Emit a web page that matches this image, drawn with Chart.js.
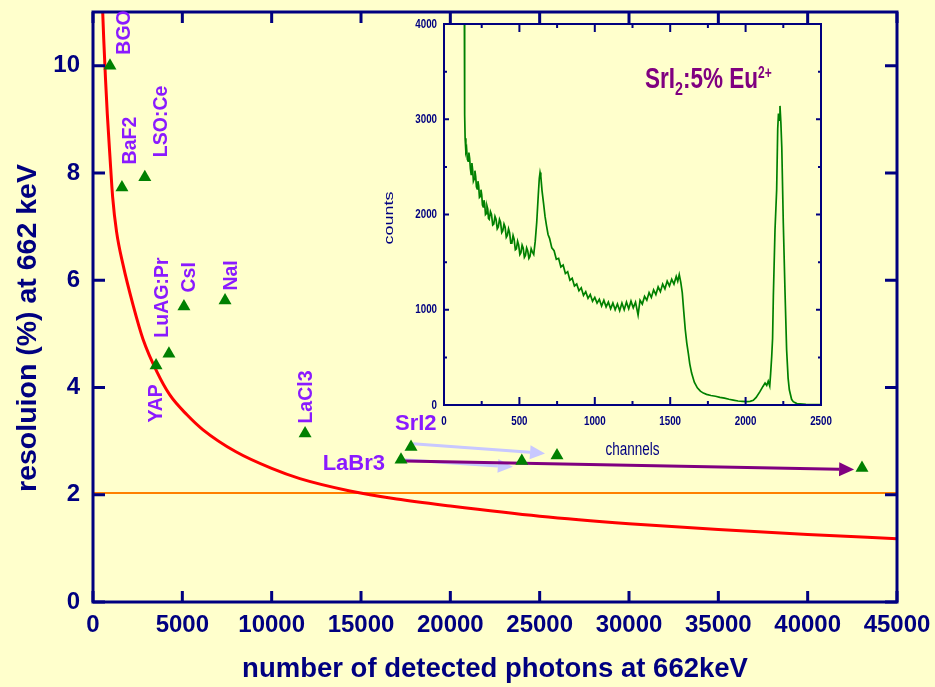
<!DOCTYPE html>
<html>
<head>
<meta charset="utf-8">
<script src="https://cdn.jsdelivr.net/npm/chart.js@4.4.1/dist/chart.umd.min.js"></script>
<style>
	html, body { margin: 0; padding: 0; background: #ffffcc; }
	#wrap { position: relative; width: 935px; height: 687px; overflow: hidden; }
	#main { position: absolute; left: 0; top: 0; }
	#inset { position: absolute; left: 360px; top: 0; }
</style>
</head>
<body>
<div id="wrap">
	<canvas id="main" width="935" height="687" style="width:935px;height:687px"></canvas>
	<canvas id="inset" width="500" height="470" style="width:500px;height:470px"></canvas>
</div>
<script>
// ---- data ----
var crystalNames = ['BGO', 'BaF2', 'LSO:Ce', 'YAP', 'LuAG:Pr', 'CsI', 'NaI', 'LaCl3', 'SrI2', 'LaBr3'];
var crystalPhotons = [950, 1620, 2900, 3530, 4250, 5090, 7390, 11870, 17800, 17240];
var crystalResolution = [10.0, 7.73, 7.92, 4.41, 4.63, 5.51, 5.62, 3.14, 2.89, 2.65];

var improvedPhotons = [24000, 25970, 43040];
var improvedResolution = [2.63, 2.73, 2.50];

// statistical limit curve
var limitPhotons = [480, 520, 600, 700, 800, 950, 1100, 1320, 1680, 2240, 2800, 3580, 4300, 5260, 6160,
	8000, 10000, 11580, 14380, 17000, 20000, 25000, 30000, 35000, 40000, 45000];
var limitResolution = [11.6, 11.2, 10.5, 9.75, 9.1, 8.3, 7.55, 6.9, 6.29, 5.54, 4.9, 4.29, 3.86, 3.49, 3.21,
	2.8, 2.49, 2.3, 2.07, 1.92, 1.79, 1.6, 1.46, 1.35, 1.26, 1.18];

var refPhotons = [0, 45000];
var refResolution = [2.03, 2.03];

var arrowStartPhotons = [17900, 17350, 17460];
var arrowStartResolution = [2.95, 2.65, 2.63];
var arrowEndPhotons = [25300, 23500, 42600];
var arrowEndResolution = [2.77, 2.52, 2.47];

// inset spectrum
var spectrumChannels = [130, 135, 137, 140, 145, 150, 155, 160, 165, 170, 175, 180, 185, 190, 195, 200, 205, 210, 215, 220,
	225, 230, 235, 240, 245, 250, 255, 260, 265, 270, 275, 280, 285, 290, 295,
	300, 308, 315, 323, 330, 338, 345, 353, 360, 368, 375, 383, 390, 398, 405, 413, 420, 428, 435, 443,
	450, 458, 465, 473, 480, 488, 495, 503, 510, 518, 525, 533, 540, 548, 555, 563, 570, 578, 585,
	595, 605, 615, 625, 632, 637, 642, 650, 660, 670, 680, 690, 700, 715, 730, 745, 760, 775, 790, 805,
	820, 835, 850, 865, 880, 895, 910, 925, 940, 955, 970, 985, 1000, 1015, 1030, 1045, 1060, 1075, 1090, 1105,
	1120, 1135, 1150, 1165, 1180, 1195, 1210, 1225, 1240, 1255, 1270, 1287, 1300, 1315, 1330, 1345, 1360, 1375, 1390, 1405,
	1420, 1435, 1450, 1465, 1480, 1495, 1510, 1525, 1540, 1550, 1560, 1570, 1580, 1590, 1600, 1610, 1620, 1630, 1642, 1660,
	1680, 1700, 1720, 1741, 1770, 1800, 1830, 1860, 1890, 1918, 1950, 1980, 2006, 2030, 2051, 2070, 2095, 2115, 2129, 2140,
	2150, 2160, 2166, 2173, 2179, 2184, 2195, 2206, 2213, 2218, 2222, 2228, 2234, 2240, 2250, 2261, 2272, 2282, 2290, 2305,
	2316, 2340, 2400, 2500];
var spectrumCounts = [4600, 4100, 3050, 2800, 2660, 2690, 2580, 2560, 2650, 2590, 2480, 2420, 2540, 2470, 2350, 2370, 2460, 2400, 2290, 2270,
	2350, 2300, 2180, 2190, 2260, 2210, 2100, 2080, 2150, 2110, 2000, 2010, 2090, 2060, 1960,
	1950, 2030, 2000, 1890, 1900, 1980, 1950, 1850, 1870, 1950, 1920, 1810, 1830, 1900, 1870, 1760, 1780, 1850, 1810, 1700,
	1700, 1780, 1740, 1630, 1640, 1720, 1680, 1580, 1600, 1680, 1650, 1550, 1570, 1650, 1620, 1540, 1560, 1640, 1610,
	1580, 1720, 1920, 2200, 2380, 2440, 2400, 2250, 2120, 1980, 1880, 1790, 1750, 1650, 1620, 1530, 1540, 1450, 1470, 1380,
	1400, 1310, 1330, 1250, 1270, 1200, 1230, 1150, 1190, 1120, 1160, 1090, 1130, 1070, 1110, 1040, 1100, 1030, 1080, 1010,
	1070, 1000, 1060, 990, 1070, 1000, 1080, 1010, 1090, 1020, 1080, 945, 1100, 1060, 1140, 1100, 1180, 1130, 1210, 1160,
	1240, 1190, 1270, 1220, 1300, 1250, 1320, 1270, 1350, 1300, 1370, 1290, 1180, 980, 790, 650, 545, 430, 335, 240,
	180, 145, 125, 112, 100, 92, 80, 72, 60, 52, 42, 38, 35, 38, 50, 80, 140, 195, 230, 205,
	250, 200, 330, 507, 700, 1140, 1840, 2260, 2900, 3060, 2990, 3140, 2960, 2700, 1910, 1210, 580, 280, 160, 60,
	35, 15, 8, 5];

// ---- styles ----
var NAVY = '#000080';
var FONT = "'Liberation Sans', Arial, Helvetica, sans-serif";
var LABEL_COLOR = '#8a1aff';
var SQUEEZE = 0.75; // inset picture is horizontally squeezed

var labelOffsets = {
	'BGO':     { dx: 15, dy: -11, vertical: true },
	'BaF2':    { dx: 9,  dy: -23, vertical: true },
	'LSO:Ce':  { dx: 17, dy: -20, vertical: true },
	'YAP':     { dx: 1,  dy: 57,  vertical: true },
	'LuAG:Pr': { dx: -6, dy: -16, vertical: true },
	'CsI':     { dx: 6,  dy: -14, vertical: true },
	'NaI':     { dx: 7,  dy: -10, vertical: true },
	'LaCl3':   { dx: 2,  dy: -10, vertical: true },
	'SrI2':    { dx: -16, dy: -23, vertical: false, align: 'left' },
	'LaBr3':   { dx: -16, dy: 4,  vertical: false, align: 'right' }
};
var arrowColors = ['#c8c8ff', '#c8c8ff', '#800080'];

function toPoints(xs, ys) {
	return xs.map(function(x, i) { return { x: x, y: ys[i] }; });
}

function drawArrow(ctx, x1, y1, x2, y2, color) {
	var ang = Math.atan2(y2 - y1, x2 - x1);
	var headLen = 15, headHalf = 7;
	var bx = x2 - headLen * Math.cos(ang), by = y2 - headLen * Math.sin(ang);
	ctx.strokeStyle = color;
	ctx.lineWidth = 3;
	ctx.beginPath();
	ctx.moveTo(x1, y1);
	ctx.lineTo(bx, by);
	ctx.stroke();
	ctx.fillStyle = color;
	ctx.beginPath();
	ctx.moveTo(x2, y2);
	ctx.lineTo(bx + headHalf * Math.sin(ang), by - headHalf * Math.cos(ang));
	ctx.lineTo(bx - headHalf * Math.sin(ang), by + headHalf * Math.cos(ang));
	ctx.closePath();
	ctx.fill();
}

// frame with inward ticks on all four sides
function drawFrame(chart, lw, xMajor, xMinor, yMajor, yMinor) {
	var ctx = chart.ctx, a = chart.chartArea;
	var xs = chart.scales.x, ys = chart.scales.y;
	ctx.save();
	ctx.strokeStyle = NAVY;
	ctx.lineWidth = lw;
	ctx.beginPath();
	xs.ticks.forEach(function(t, i) {
		var px = xs.getPixelForValue(t.value);
		ctx.moveTo(px, a.bottom); ctx.lineTo(px, a.bottom - xMajor);
		ctx.moveTo(px, a.top); ctx.lineTo(px, a.top + xMajor);
		if (xMinor && i < xs.ticks.length - 1) {
			var pm = xs.getPixelForValue((t.value + xs.ticks[i + 1].value) / 2);
			ctx.moveTo(pm, a.bottom); ctx.lineTo(pm, a.bottom - xMinor);
			ctx.moveTo(pm, a.top); ctx.lineTo(pm, a.top + xMinor);
		}
	});
	ys.ticks.forEach(function(t, i) {
		var py = ys.getPixelForValue(t.value);
		ctx.moveTo(a.left, py); ctx.lineTo(a.left + yMajor, py);
		ctx.moveTo(a.right, py); ctx.lineTo(a.right - yMajor, py);
		if (yMinor && i < ys.ticks.length - 1) {
			var pm = ys.getPixelForValue((t.value + ys.ticks[i + 1].value) / 2);
			ctx.moveTo(a.left, pm); ctx.lineTo(a.left + yMinor, pm);
			ctx.moveTo(a.right, pm); ctx.lineTo(a.right - yMinor, pm);
		}
	});
	ctx.stroke();
	ctx.strokeRect(a.left, a.top, a.right - a.left, a.bottom - a.top);
	ctx.restore();
}

var mainDecor = {
	id: 'mainDecor',
	beforeDatasetsDraw: function(chart) {
		var ctx = chart.ctx, xs = chart.scales.x, ys = chart.scales.y;
		ctx.save();
		for (var i = 0; i < arrowStartPhotons.length; i++) {
			drawArrow(ctx,
				xs.getPixelForValue(arrowStartPhotons[i]), ys.getPixelForValue(arrowStartResolution[i]),
				xs.getPixelForValue(arrowEndPhotons[i]), ys.getPixelForValue(arrowEndResolution[i]),
				arrowColors[i]);
		}
		ctx.restore();
	},
	afterDatasetsDraw: function(chart) {
		drawFrame(chart, 3, 11, 0, 12, 0);
	},
	afterDraw: function(chart) {
		var ctx = chart.ctx, xs = chart.scales.x, ys = chart.scales.y;
		ctx.save();
		ctx.fillStyle = LABEL_COLOR;
		crystalNames.forEach(function(name, i) {
			var o = labelOffsets[name];
			var px = xs.getPixelForValue(crystalPhotons[i]) + o.dx;
			var py = ys.getPixelForValue(crystalResolution[i]) + o.dy;
			ctx.save();
			ctx.translate(px, py);
			if (o.vertical) {
				ctx.rotate(-Math.PI / 2);
				ctx.font = 'bold 19.5px ' + FONT;
				ctx.textAlign = 'left';
			} else {
				ctx.font = 'bold 22px ' + FONT;
				ctx.textAlign = o.align;
			}
			ctx.textBaseline = 'middle';
			ctx.fillText(name, 0, 0);
			ctx.restore();
		});
		// y axis title
		ctx.fillStyle = NAVY;
		ctx.font = 'bold 28.5px ' + FONT;
		ctx.translate(28, 328);
		ctx.rotate(-Math.PI / 2);
		ctx.textAlign = 'center';
		ctx.textBaseline = 'middle';
		ctx.fillText('resoluion (%) at 662 keV', 0, 0);
		ctx.restore();
	}
};

var tickFont = { family: FONT, size: 24, weight: 'bold' };

new Chart(document.getElementById('main'), {
	type: 'scatter',
	data: {
		datasets: [
			{
				label: 'crystals',
				data: toPoints(crystalPhotons, crystalResolution),
				pointStyle: 'triangle',
				pointRadius: 7.5,
				backgroundColor: '#008000',
				borderWidth: 0,
				order: 0
			},
			{
				label: 'improved',
				data: toPoints(improvedPhotons, improvedResolution),
				pointStyle: 'triangle',
				pointRadius: 7.5,
				backgroundColor: '#008000',
				borderWidth: 0,
				order: 1
			},
			{
				label: 'limit',
				data: toPoints(limitPhotons, limitResolution),
				showLine: true,
				borderColor: '#ff0000',
				borderWidth: 3,
				pointRadius: 0,
				cubicInterpolationMode: 'monotone',
				order: 2
			},
			{
				label: 'reference',
				data: toPoints(refPhotons, refResolution),
				showLine: true,
				borderColor: '#ff8000',
				borderWidth: 2,
				pointRadius: 0,
				order: 3
			}
		]
	},
	options: {
		responsive: false,
		animation: false,
		layout: { padding: { left: 0, top: 12, right: 38, bottom: 0 } },
		plugins: { legend: { display: false }, tooltip: { enabled: false } },
		scales: {
			x: {
				type: 'linear',
				min: 0,
				max: 45000,
				grid: { display: false, drawTicks: false },
				border: { display: false },
				ticks: {
					stepSize: 5000,
					color: NAVY,
					font: tickFont,
					padding: 9,
					maxRotation: 0,
					autoSkip: false,
					includeBounds: false,
					callback: function(v) { return String(v); }
				},
				title: {
					display: true,
					text: 'number of detected photons at 662keV',
					color: NAVY,
					font: { family: FONT, size: 27.5, weight: 'bold' },
					padding: { top: 0, bottom: 1 }
				},
				afterFit: function(s) { s.height = 85; s.paddingLeft = 0; s.paddingRight = 0; }
			},
			y: {
				type: 'linear',
				min: 0,
				max: 11,
				grid: { display: false, drawTicks: false },
				border: { display: false },
				ticks: {
					stepSize: 2,
					color: NAVY,
					font: tickFont,
					padding: 13,
					includeBounds: false,
					callback: function(v) { return String(v); }
				},
				afterFit: function(s) { s.width = 93; s.paddingTop = 0; s.paddingBottom = 0; }
			}
		}
	},
	plugins: [mainDecor]
});

// ---- inset ----
function squeezedText(ctx, text, x, y, font, align, rotate) {
	ctx.save();
	ctx.translate(x, y);
	ctx.scale(SQUEEZE, 1);
	if (rotate) ctx.rotate(-Math.PI / 2);
	ctx.font = font;
	ctx.textAlign = align;
	ctx.textBaseline = 'middle';
	ctx.fillText(text, 0, 0);
	ctx.restore();
}

var insetDecor = {
	id: 'insetDecor',
	afterDatasetsDraw: function(chart) {
		drawFrame(chart, 2, 8, 4, 5, 3);
	},
	afterDraw: function(chart) {
		var ctx = chart.ctx, a = chart.chartArea, xs = chart.scales.x, ys = chart.scales.y;
		var tf = 'bold 13px ' + FONT;
		ctx.save();
		ctx.fillStyle = NAVY;
		xs.ticks.forEach(function(t) {
			squeezedText(ctx, String(t.value), xs.getPixelForValue(t.value), a.bottom + 16, tf, 'center');
		});
		ys.ticks.forEach(function(t) {
			squeezedText(ctx, String(t.value), a.left - 7, ys.getPixelForValue(t.value), tf, 'right');
		});
		squeezedText(ctx, 'channels', (a.left + a.right) / 2, 450, '18px ' + FONT, 'center');
		squeezedText(ctx, 'counts', 29, 218, '18px ' + FONT, 'center', true);

		// title SrI2:5% Eu2+
		ctx.fillStyle = '#800080';
		ctx.translate(285, 0);
		ctx.scale(SQUEEZE, 1);
		ctx.textAlign = 'left';
		ctx.textBaseline = 'alphabetic';
		var parts = [
			['SrI', 'bold 30px ', 88],
			['2', 'bold 19px ', 95],
			[':5% Eu', 'bold 30px ', 88],
			['2+', 'bold 16px ', 78]
		];
		var x = 0;
		parts.forEach(function(p) {
			ctx.font = p[1] + FONT;
			ctx.fillText(p[0], x, p[2]);
			x += ctx.measureText(p[0]).width;
		});
		ctx.restore();
	}
};

new Chart(document.getElementById('inset'), {
	type: 'scatter',
	data: {
		datasets: [{
			label: 'spectrum',
			data: toPoints(spectrumChannels, spectrumCounts),
			showLine: true,
			borderColor: '#008000',
			borderWidth: 1.7,
			pointRadius: 0
		}]
	},
	options: {
		responsive: false,
		animation: false,
		layout: { padding: { left: 0, top: 24, right: 39, bottom: 0 } },
		plugins: { legend: { display: false }, tooltip: { enabled: false } },
		scales: {
			x: {
				type: 'linear',
				min: 0,
				max: 2500,
				grid: { display: false, drawTicks: false },
				border: { display: false },
				ticks: { stepSize: 500, display: false },
				afterFit: function(s) { s.height = 65; s.paddingLeft = 0; s.paddingRight = 0; }
			},
			y: {
				type: 'linear',
				min: 0,
				max: 4000,
				grid: { display: false, drawTicks: false },
				border: { display: false },
				ticks: { stepSize: 1000, display: false },
				afterFit: function(s) { s.width = 84; s.paddingTop = 0; s.paddingBottom = 0; }
			}
		}
	},
	plugins: [insetDecor]
});
</script>
</body>
</html>
